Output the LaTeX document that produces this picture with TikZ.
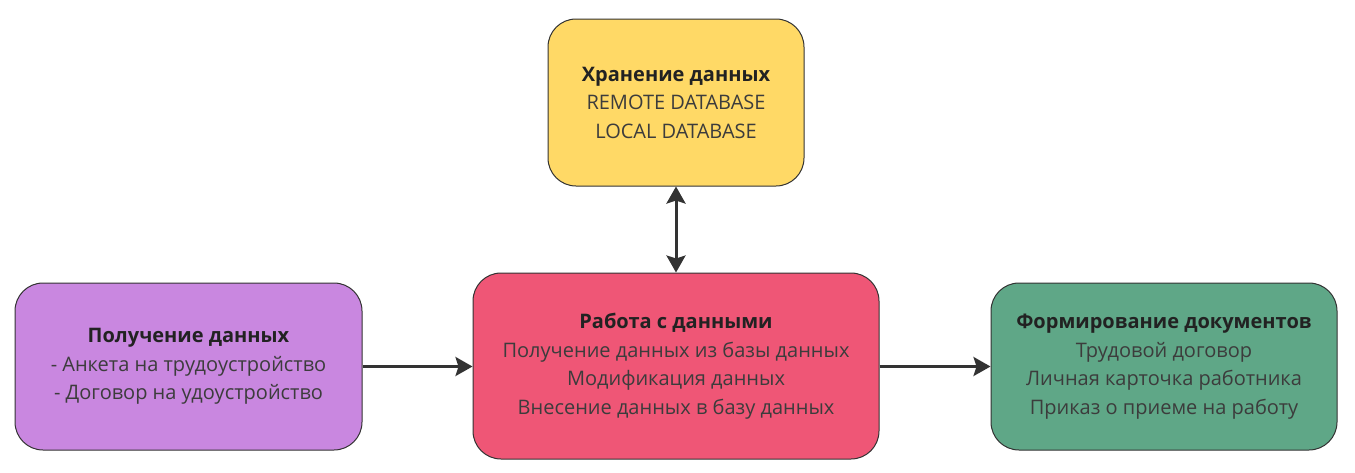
\documentclass[tikz,border=0pt]{standalone}
\usepackage{fontspec}
\setmainfont{Open Sans}
\usetikzlibrary{arrows.meta}

\definecolor{amarelo}{RGB}{255,217,102}
\definecolor{rosa}{RGB}{239,86,118}
\definecolor{lilas}{RGB}{201,135,224}
\definecolor{verde}{RGB}{95,167,135}
\definecolor{linha}{RGB}{51,51,51}
\definecolor{titulo}{RGB}{34,34,34}
\definecolor{texto}{RGB}{60,60,60}

\begin{document}
\begin{tikzpicture}[x=1pt, y=-1pt,
            caixa/.style={draw=linha, line width=1pt, rounded corners=28pt, align=center, inner sep=0pt, text=texto, font=\fontsize{20}{28.5}\selectfont},
            seta/.style={draw=linha, line width=3pt},
            ponta/.tip={Stealth[length=17pt, width=19pt, inset=3pt]}]
            \useasboundingbox (0,0) rectangle (1355,472);

            \node[caixa, fill=amarelo, minimum width=256pt, minimum height=167pt] (armazenamento) at (676,102.5)
                {{\color{titulo}\bfseries Хранение данных}\\REMOTE DATABASE\\LOCAL DATABASE};
            \node[caixa, fill=rosa, minimum width=406pt, minimum height=186pt] (trabalho) at (676,366)
                {{\color{titulo}\bfseries Работа с данными}\\Получение данных из базы данных\\Модификация данных\\Внесение данных в базу данных};
            \node[caixa, fill=lilas, minimum width=347pt, minimum height=167pt] (obtencao) at (188.5,366.5)
                {{\color{titulo}\bfseries Получение данных}\\- Анкета на трудоустройство\\- Договор на удоустройство};
            \node[caixa, fill=verde, minimum width=346pt, minimum height=167pt] (documentos) at (1164,366.5)
                {{\color{titulo}\bfseries Формирование документов}\\Трудовой договор\\Личная карточка работника\\Приказ о приеме на работу};

            \draw[seta, ponta-ponta] (armazenamento.south) -- (trabalho.north);
            \draw[seta, -ponta] (obtencao.east) -- (trabalho.west |- obtencao.east);
            \draw[seta, -ponta] (trabalho.east |- documentos.west) -- (documentos.west);
        \end{tikzpicture}
\end{document}
